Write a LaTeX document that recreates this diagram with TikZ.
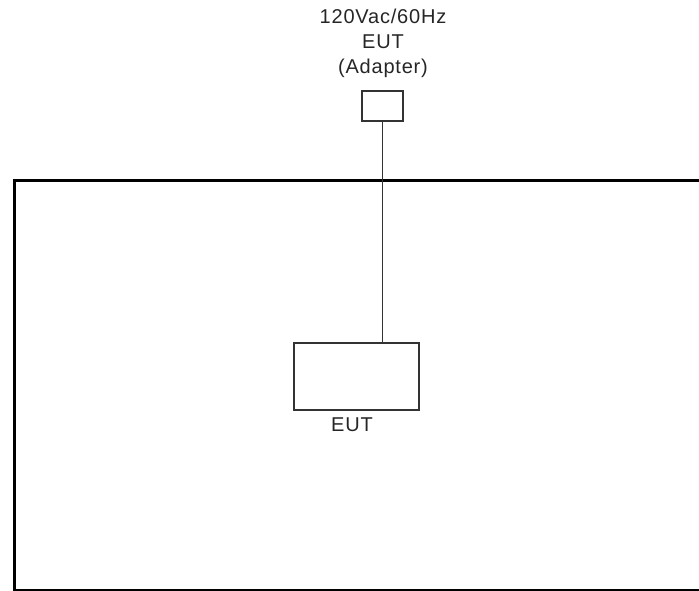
\documentclass[tikz,border=0pt]{standalone}
\usepackage{fontspec}
\setmainfont{Liberation Sans}[LetterSpace=4]
\begin{document}
\begin{tikzpicture}[x=1pt,y=-1pt,
  thinbox/.style={draw=black!80,line width=1.6pt},
  frameline/.style={draw=black,line width=3pt},
  lbl/.style={font=\fontsize{20}{25}\selectfont,text=black!85,inner sep=0pt,align=center}]
\useasboundingbox (0,0) rectangle (699,591);
% frame
\draw[frameline] (699,181) -- (14,181) -- (14,590) -- (699,590);
% adapter
\node[thinbox,minimum width=41pt,minimum height=30pt,inner sep=0pt,anchor=north west] (adp) at (361,90) {};
\node[lbl,anchor=south] (adptxt) at (383,78) {120Vac/60Hz\\EUT\\(Adapter)};
% EUT
\node[thinbox,minimum width=125pt,minimum height=67pt,inner sep=0pt,anchor=north west] (eut) at (293,342) {};
\node[lbl,anchor=north] (euttxt) at (352,418) {EUT};
\draw[thinbox] (adp.south) -- (adp.south |- eut.north);
\end{tikzpicture}
\end{document}
